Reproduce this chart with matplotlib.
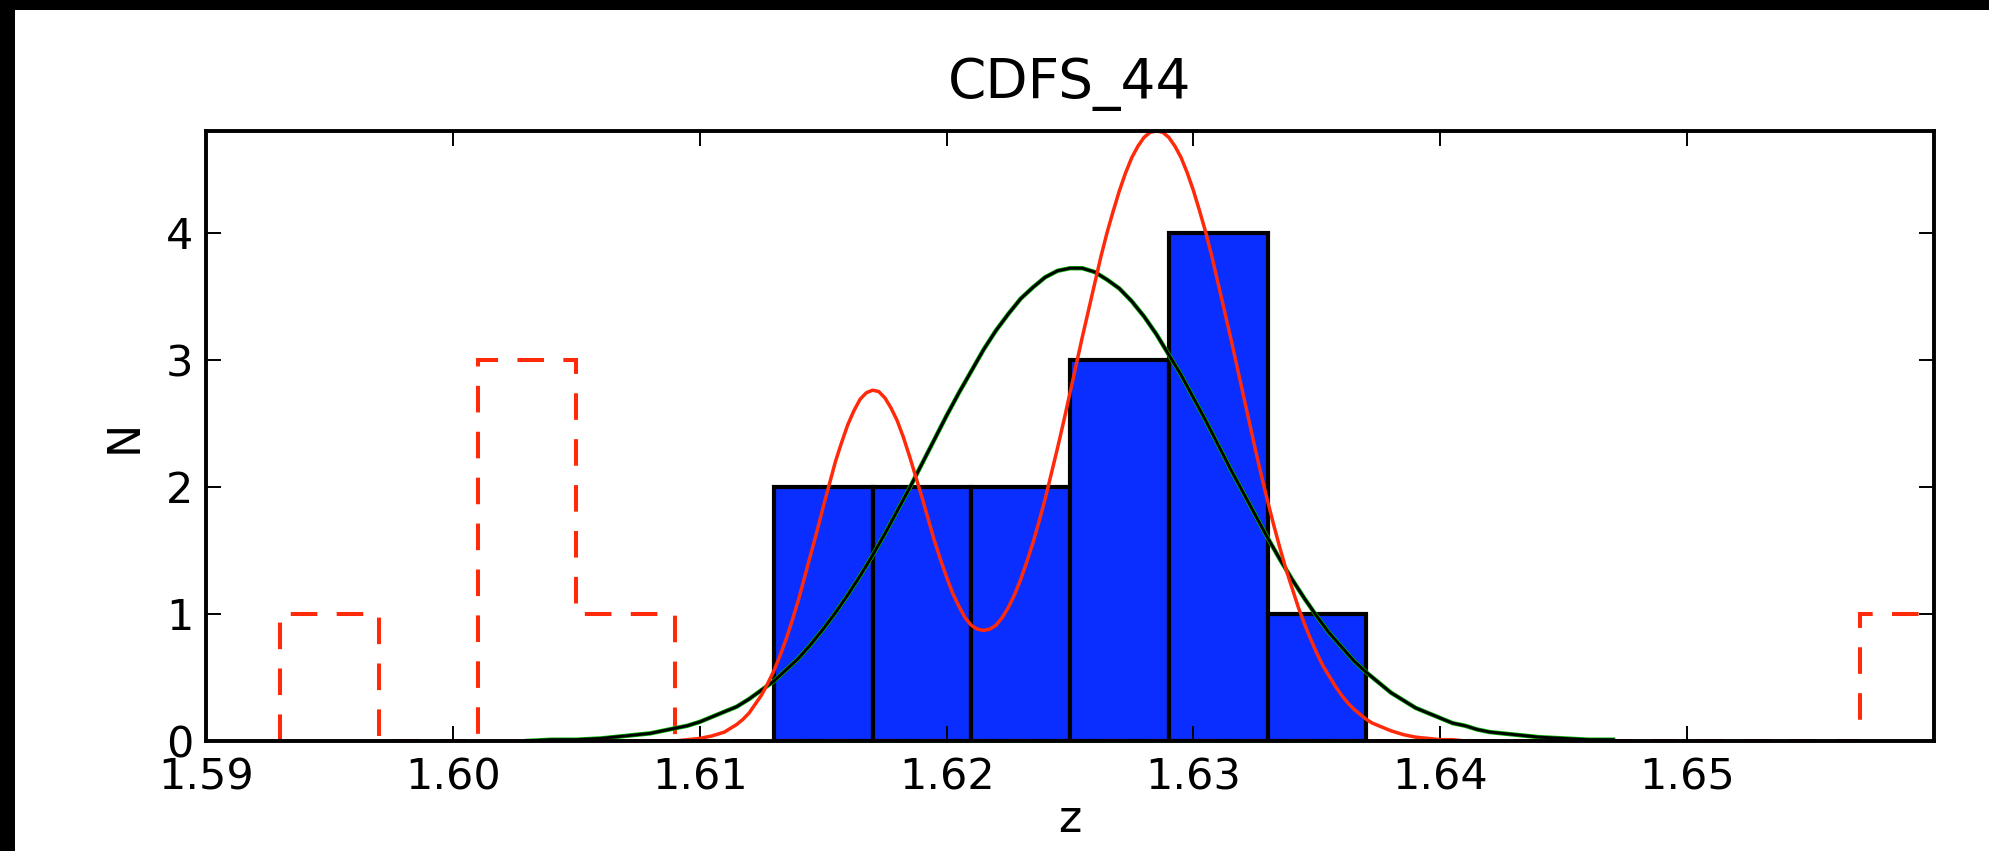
#Libraries
import numpy as np
import matplotlib
matplotlib.use('Agg')
import matplotlib.pyplot as plt
from matplotlib.patches import Rectangle

plt.rcParams['font.family'] = ['DejaVu Sans']

#Histogram of members (bins of 0.004 in z)
z_bins_members = [1.613, 1.617, 1.621, 1.625, 1.629, 1.633, 1.637]
n_members = [2, 2, 2, 3, 4, 1]

#Histogram of the rest (dashed outline)
z_bins_others = [1.593, 1.597, 1.601, 1.605, 1.609, 1.613, 1.617, 1.621, 1.625,
                 1.629, 1.633, 1.637, 1.641, 1.645, 1.649, 1.653, 1.657, 1.661]
n_others = [1, 0, 3, 1, 0, 0, 0, 0, 0, 0, 0, 0, 0, 0, 0, 0, 1]

#Single gaussian (dark curve)
z_single = [1.603, 1.604, 1.605, 1.606, 1.607, 1.608, 1.6085, 1.609, 1.6095, 1.610,
            1.6105, 1.611, 1.6115, 1.612, 1.6125, 1.613, 1.6135, 1.614, 1.6145, 1.615,
            1.6155, 1.616, 1.6165, 1.617, 1.6175, 1.618, 1.6185, 1.619, 1.6195, 1.620,
            1.6205, 1.621, 1.6215, 1.622, 1.6225, 1.623, 1.6235, 1.624, 1.6245, 1.625,
            1.6255, 1.626, 1.6265, 1.627, 1.6275, 1.628, 1.6285, 1.629, 1.6295, 1.630,
            1.6305, 1.631, 1.6315, 1.632, 1.6325, 1.633, 1.6335, 1.634, 1.6345, 1.635,
            1.6355, 1.636, 1.6365, 1.637, 1.6375, 1.638, 1.6385, 1.639, 1.6395, 1.640,
            1.6405, 1.641, 1.6415, 1.642, 1.6425, 1.643, 1.644, 1.645, 1.646, 1.647]
n_single = [0.00, 0.01, 0.01, 0.02, 0.04, 0.06, 0.08, 0.10, 0.12, 0.15,
            0.19, 0.23, 0.27, 0.33, 0.40, 0.47, 0.56, 0.65, 0.76, 0.88,
            1.01, 1.15, 1.30, 1.46, 1.63, 1.81, 1.99, 2.18, 2.37, 2.56,
            2.74, 2.91, 3.08, 3.23, 3.36, 3.48, 3.57, 3.65, 3.70, 3.72,
            3.72, 3.69, 3.63, 3.56, 3.46, 3.34, 3.20, 3.04, 2.88, 2.70,
            2.52, 2.33, 2.14, 1.96, 1.78, 1.60, 1.43, 1.27, 1.12, 0.98,
            0.85, 0.74, 0.63, 0.54, 0.46, 0.38, 0.32, 0.26, 0.22, 0.18,
            0.14, 0.12, 0.09, 0.07, 0.06, 0.05, 0.03, 0.02, 0.01, 0.01]

#Double gaussian (red curve)
z_double = [1.6050, 1.6055, 1.6060, 1.6065, 1.6070, 1.6075, 1.6080, 1.6085, 1.6090, 1.6095,
            1.6100, 1.6105, 1.6110, 1.61125, 1.6115, 1.61175, 1.6120, 1.61225, 1.6125, 1.61275,
            1.6130, 1.61325, 1.6135, 1.61375, 1.6140, 1.61425, 1.6145, 1.61475, 1.6150, 1.61525,
            1.6155, 1.61575, 1.6160, 1.61625, 1.6165, 1.61675, 1.6170, 1.61725, 1.6175, 1.61775,
            1.6180, 1.61825, 1.6185, 1.61875, 1.6190, 1.61925, 1.6195, 1.61975, 1.6200, 1.62025,
            1.6205, 1.62075, 1.6210, 1.62125, 1.6215, 1.62175, 1.6220, 1.62225, 1.6225, 1.62275,
            1.6230, 1.62325, 1.6235, 1.62375, 1.6240, 1.62425, 1.6245, 1.62475, 1.6250, 1.62525,
            1.6255, 1.62575, 1.6260, 1.62625, 1.6265, 1.62675, 1.6270, 1.62725, 1.6275, 1.62775,
            1.6280, 1.62825, 1.6285, 1.62875, 1.6290, 1.62925, 1.6295, 1.62975, 1.6300, 1.63025,
            1.6305, 1.63075, 1.6310, 1.63125, 1.6315, 1.63175, 1.6320, 1.63225, 1.6325, 1.63275,
            1.6330, 1.63325, 1.6335, 1.63375, 1.6340, 1.63425, 1.6345, 1.63475, 1.6350, 1.63525,
            1.6355, 1.63575, 1.6360, 1.63625, 1.6365, 1.63675, 1.6370, 1.63725, 1.6375, 1.6380,
            1.6385, 1.6390, 1.6395, 1.6400, 1.6405, 1.6410, 1.6415, 1.6420]
n_double = [0.00, 0.00, 0.00, 0.00, 0.00, 0.00, 0.00, 0.00, 0.00, 0.01,
            0.02, 0.04, 0.07, 0.10, 0.13, 0.17, 0.22, 0.29, 0.36, 0.45,
            0.55, 0.67, 0.80, 0.95, 1.11, 1.29, 1.47, 1.65, 1.84, 2.02,
            2.20, 2.35, 2.49, 2.60, 2.69, 2.74, 2.76, 2.75, 2.70, 2.62,
            2.52, 2.39, 2.24, 2.08, 1.92, 1.75, 1.58, 1.43, 1.29, 1.16,
            1.06, 0.97, 0.91, 0.88, 0.87, 0.88, 0.91, 0.97, 1.05, 1.15,
            1.27, 1.41, 1.56, 1.73, 1.91, 2.11, 2.31, 2.52, 2.74, 2.96,
            3.18, 3.39, 3.60, 3.81, 4.00, 4.17, 4.33, 4.47, 4.59, 4.68,
            4.75, 4.79, 4.80, 4.79, 4.75, 4.68, 4.59, 4.47, 4.33, 4.17,
            4.00, 3.81, 3.60, 3.39, 3.18, 2.96, 2.74, 2.52, 2.30, 2.09,
            1.89, 1.70, 1.52, 1.35, 1.20, 1.05, 0.92, 0.80, 0.69, 0.59,
            0.51, 0.43, 0.36, 0.30, 0.25, 0.21, 0.17, 0.14, 0.12, 0.08,
            0.05, 0.03, 0.02, 0.01, 0.01, 0.00, 0.00, 0.00]

x_ticks = [1.59, 1.60, 1.61, 1.62, 1.63, 1.64, 1.65]
y_ticks = [0, 1, 2, 3, 4]

#Figure and axes
fig = plt.figure(figsize=(19.9, 8.51), dpi=100)
ax = fig.add_axes([0.1035, 0.1293, 0.8684, 0.7168])

#black band on top and left (screenshot border)
fig.add_artist(Rectangle((0, 1 - 10/851.), 1, 10/851., transform=fig.transFigure,
                         facecolor='k', edgecolor='none'))
fig.add_artist(Rectangle((0, 0), 15/1990., 1, transform=fig.transFigure,
                         facecolor='k', edgecolor='none'))

#Bars
ax.bar(z_bins_members[:-1], n_members, width=np.diff(z_bins_members), align='edge',
       color='#0a2eff', edgecolor='k', linewidth=3.0, zorder=1)

#Dashed histogram (under the spines, as in the original)
ax.stairs(n_others, z_bins_others, baseline=0, color='#ff2a0a', lw=2.9,
          linestyle=(0, (6.6, 4.8)), zorder=1.5)

#Curves
ax.plot(z_single, n_single, color='#00b000', lw=3.2, zorder=2)
ax.plot(z_single, n_single, color='k', lw=2.1, zorder=2)
ax.plot(z_double, n_double, color='#ff2a0a', lw=2.5, zorder=2.1)

ax.set_xlim(1.59, 1.66)
ax.set_ylim(0, 4.8)
ax.set_xticks(x_ticks)
ax.set_xticklabels(['%.2f' % t for t in x_ticks])
ax.set_yticks(y_ticks)

ax.tick_params(direction='in', length=11, width=1.4, top=True, right=True,
               labelsize=31)
ax.tick_params(axis='x', pad=11)
ax.tick_params(axis='y', pad=9)
for s in ax.spines.values():
    s.set_linewidth(2.8)

ax.set_title('CDFS_44', fontsize=39.5, pad=24)
ax.set_xlabel('z', fontsize=32, labelpad=0)
ax.set_ylabel('N', fontsize=32, labelpad=15)

fig.savefig('out.png', dpi=100)
